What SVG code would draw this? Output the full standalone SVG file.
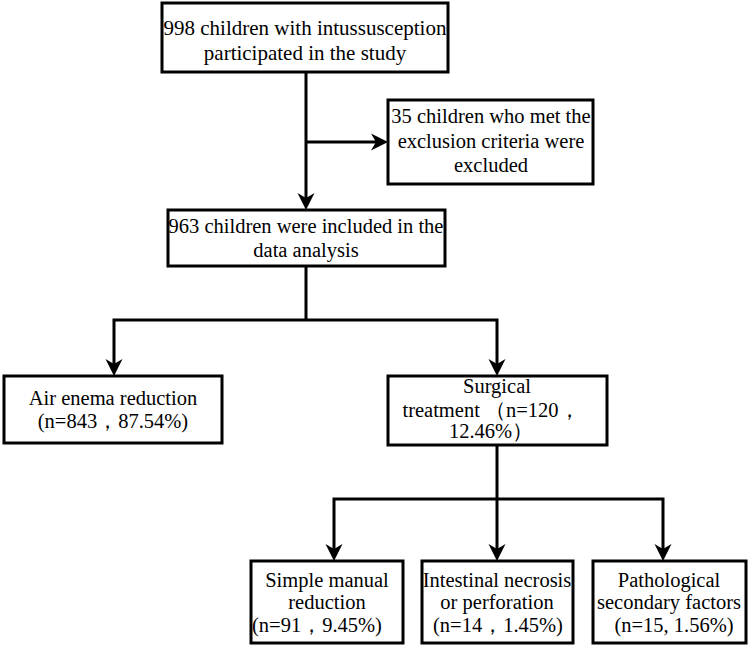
<svg xmlns="http://www.w3.org/2000/svg" width="752" height="650" viewBox="0 0 752 650" xml:lang="en" lang="en">
<defs>
<marker id="ah" markerUnits="userSpaceOnUse" viewBox="-9 -10 20 20" markerWidth="20" markerHeight="20" refX="0" refY="0" orient="auto">
<path d="M10,0 L-7,-8.5 L-2,0 L-7,8.5 Z" fill="#000"/>
</marker>
</defs>
<rect width="752" height="650" fill="#fff"/>
<g id="connectors" fill="none" stroke="#000" stroke-width="3">
<path marker-end="url(#ah)" d="M306,72 V200"/>
<path marker-end="url(#ah)" d="M306,142 H378"/>
<path d="M306,266 V320"/>
<path marker-end="url(#ah)" d="M306,320 H114 V366"/>
<path marker-end="url(#ah)" d="M306,320 H497 V366"/>
<path d="M497,445 V499"/>
<path marker-end="url(#ah)" d="M497,499 H334 V551"/>
<path marker-end="url(#ah)" d="M497,499 V551"/>
<path marker-end="url(#ah)" d="M497,499 H663 V551"/>
</g>
<g id="n1">
<rect x="162" y="3" width="286" height="69" fill="#fff" stroke="#000" stroke-width="3"/>
<text x="305" y="35" font-family="Liberation Serif" font-size="21" text-anchor="middle">998 children with intussusception</text>
<text x="305" y="60" font-family="Liberation Serif" font-size="21" text-anchor="middle">participated in the study</text>
</g>
<g id="n2">
<rect x="388" y="100" width="205" height="84" fill="#fff" stroke="#000" stroke-width="3"/>
<text x="491" y="123" font-family="Liberation Serif" font-size="20.5" text-anchor="middle">35 children who met the</text>
<text x="491" y="148" font-family="Liberation Serif" font-size="20.5" text-anchor="middle">exclusion criteria were</text>
<text x="491" y="172" font-family="Liberation Serif" font-size="20.5" text-anchor="middle">excluded</text>
</g>
<g id="n3">
<rect x="168" y="210" width="277" height="56" fill="#fff" stroke="#000" stroke-width="3"/>
<text x="306" y="233" font-family="Liberation Serif" font-size="20.5" text-anchor="middle">963 children were included in the</text>
<text x="306" y="257" font-family="Liberation Serif" font-size="20.5" text-anchor="middle">data analysis</text>
</g>
<g id="n4">
<rect x="4" y="376" width="218" height="67" fill="#fff" stroke="#000" stroke-width="3"/>
<text x="113" y="405" font-family="Liberation Serif" font-size="20.5" text-anchor="middle">Air enema reduction</text>
<text x="113" y="428" font-family="Liberation Serif" font-size="20.5" text-anchor="middle">(n=843，87.54%)</text>
</g>
<g id="n5">
<rect x="388" y="376" width="219" height="69" fill="#fff" stroke="#000" stroke-width="3"/>
<text x="497" y="393" font-family="Liberation Serif" font-size="20.5" text-anchor="middle">Surgical</text>
<text x="491" y="417" font-family="Liberation Serif" font-size="20.5" text-anchor="middle">treatment （n=120，</text>
<text x="491" y="438" font-family="Liberation Serif" font-size="20.5" text-anchor="middle">12.46%）</text>
</g>
<g id="n6">
<rect x="251" y="561" width="152" height="82" fill="#fff" stroke="#000" stroke-width="3"/>
<text x="327" y="587" font-family="Liberation Serif" font-size="20.5" text-anchor="middle">Simple manual</text>
<text x="327" y="609" font-family="Liberation Serif" font-size="20.5" text-anchor="middle">reduction</text>
<text x="317" y="632" font-family="Liberation Serif" font-size="20.5" text-anchor="middle">(n=91，9.45%)</text>
</g>
<g id="n7">
<rect x="422" y="561" width="151" height="82" fill="#fff" stroke="#000" stroke-width="3"/>
<text x="497" y="587" font-family="Liberation Serif" font-size="20.5" text-anchor="middle">Intestinal necrosis</text>
<text x="497" y="609" font-family="Liberation Serif" font-size="20.5" text-anchor="middle">or perforation</text>
<text x="498" y="632" font-family="Liberation Serif" font-size="20.5" text-anchor="middle">(n=14，1.45%)</text>
</g>
<g id="n8">
<rect x="593" y="561" width="153" height="82" fill="#fff" stroke="#000" stroke-width="3"/>
<text x="669" y="587" font-family="Liberation Serif" font-size="20.5" text-anchor="middle">Pathological</text>
<text x="669" y="609" font-family="Liberation Serif" font-size="20.5" text-anchor="middle">secondary factors</text>
<text x="674" y="632" font-family="Liberation Serif" font-size="20.5" text-anchor="middle">(n=15, 1.56%)</text>
</g>
</svg>
